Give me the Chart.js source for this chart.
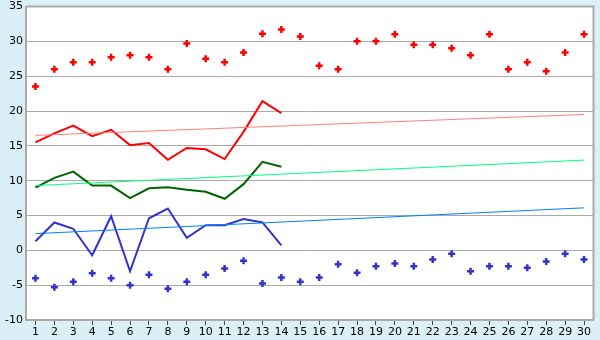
<!DOCTYPE html>
<html>
<head>
<meta charset="utf-8">
<script src="https://cdn.jsdelivr.net/npm/chart.js@4"></script>
<style>
  html, body { margin: 0; padding: 0; background: #daf0f6; }
  #wrap { width: 600px; height: 340px; }
</style>
</head>
<body>
<div id="wrap"><canvas id="chart" width="600" height="340"></canvas></div>
<script>
const labels = ['1','2','3','4','5','6','7','8','9','10','11','12','13','14','15',
    '16','17','18','19','20','21','22','23','24','25','26','27','28','29','30'];

// scattered daily maxima / minima
const highPoints = [23.5, 26, 27, 27, 27.7, 28, 27.7, 26, 29.7, 27.5, 27, 28.4, 31.1, 31.7, 30.7,
    26.5, 26, 30, 30, 31, 29.5, 29.5, 29, 28, 31, 26, 27, 25.7, 28.4, 31];
const lowPoints = [-4, -5.3, -4.5, -3.3, -4, -5, -3.5, -5.5, -4.5, -3.5, -2.6, -1.5, -4.75, -3.9, -4.5,
    -3.9, -2, -3.2, -2.3, -1.9, -2.3, -1.3, -0.5, -3, -2.3, -2.3, -2.5, -1.6, -0.5, -1.3];

// measured lines (first 14 days)
const redLine = [15.5, 16.8, 17.9, 16.4, 17.3, 15.1, 15.4, 13, 14.7, 14.5, 13.1, 17, 21.4, 19.7];
const greenLine = [9, 10.4, 11.3, 9.3, 9.3, 7.5, 8.9, 9.05, 8.7, 8.4, 7.4, 9.5, 12.7, 12];
const blueLine = [1.3, 4, 3.1, -0.7, 4.9, -3, 4.6, 6, 1.8, 3.6, 3.6, 4.5, 4, 0.7];

// trend lines: value at day 1 and day 30
const redTrend = [16.5, 19.5];
const greenTrend = [9.3, 12.95];
const blueTrend = [2.4, 6.1];

function trend(ends) {
    return [{ x: labels[0], y: ends[0] }, { x: labels[labels.length - 1], y: ends[1] }];
}

const bgPlugin = {
    id: 'bg',
    beforeDraw(chart) {
        const ctx = chart.ctx;
        const a = chart.chartArea;
        ctx.save();
        ctx.fillStyle = '#daf0f6';
        ctx.fillRect(0, 0, chart.width, chart.height);
        ctx.fillStyle = '#ffffff';
        ctx.fillRect(a.left, a.top, a.right - a.left, a.bottom - a.top);
        ctx.restore();
    },
    afterDraw(chart) {
        const ctx = chart.ctx;
        const a = chart.chartArea;
        ctx.save();
        ctx.strokeStyle = '#aaaaaa';
        ctx.lineWidth = 2;
        ctx.beginPath();
        ctx.moveTo(a.left, a.top);
        ctx.lineTo(a.right, a.top);
        ctx.lineTo(a.right, a.bottom);
        ctx.stroke();
        ctx.restore();
    }
};

const lineStyle = (color) => ({
    borderColor: color,
    backgroundColor: color,
    borderWidth: 2,
    pointRadius: 0,
    tension: 0,
    fill: false
});
const trendStyle = (color) => ({
    borderColor: color,
    backgroundColor: color,
    borderWidth: 1,
    pointRadius: 0,
    tension: 0,
    fill: false
});
const pointStyle = (color) => ({
    borderColor: color,
    backgroundColor: color,
    showLine: false,
    pointStyle: 'cross',
    pointRadius: 3.5,
    borderWidth: 2.5
});

new Chart(document.getElementById('chart'), {
    type: 'line',
    data: {
        labels: labels,
        datasets: [
            { data: trend(redTrend), ...trendStyle('#ff8080') },
            { data: trend(greenTrend), ...trendStyle('#00ff80') },
            { data: trend(blueTrend), ...trendStyle('#0080ff') },
            { data: redLine, ...lineStyle('#ff0000') },
            { data: greenLine, ...lineStyle('#006400') },
            { data: blueLine, ...lineStyle('#3333cc') },
            { data: highPoints, ...pointStyle('#ff0000') },
            { data: lowPoints, ...pointStyle('#3333cc') }
        ]
    },
    options: {
        responsive: false,
        animation: false,
        layout: { padding: { top: 5, right: 5, left: 0, bottom: 0 } },
        plugins: { legend: { display: false }, tooltip: { enabled: false } },
        scales: {
            x: {
                type: 'category',
                offset: true,
                grid: { drawOnChartArea: false, drawTicks: true, tickLength: 5, color: '#444444' },
                border: { color: '#aaaaaa', width: 2 },
                ticks: { color: '#000000', font: { family: 'DejaVu Sans', size: 11 }, padding: 1, maxRotation: 0, autoSkip: false },
                afterFit(scale) { scale.height = 20; }
            },
            y: {
                min: -10,
                max: 35,
                ticks: { stepSize: 5, color: '#000000', font: { family: 'DejaVu Sans', size: 11 }, padding: 3 },
                grid: { color: '#aaaaaa', lineWidth: 1, drawTicks: false },
                border: { color: '#aaaaaa', width: 2 },
                afterFit(scale) {
                    scale.width = 26;
                    scale.paddingTop = 0;
                    scale.paddingBottom = 0;
                }
            }
        }
    },
    plugins: [bgPlugin]
});
</script>
</body>
</html>
